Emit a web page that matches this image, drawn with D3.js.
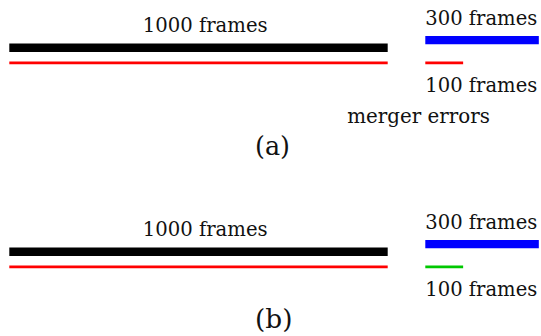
<!DOCTYPE html>
<html>
<head>
<meta charset="utf-8">
<script src="https://cdn.jsdelivr.net/npm/d3@7/dist/d3.min.js"></script>
<style>
  html, body { margin: 0; padding: 0; background: #fff; }
  svg { display: block; }
</style>
</head>
<body>
<script>
// Panels and the track lengths (in frames) drawn in each one
const panels = ["(a)", "(b)"];
const longTrack = [1000, 1000];     // thick black track
const longError = [1000, 1000];     // thin red line under the long track
const shortTrack = [300, 300];      // thick blue track
const shortPiece = [100, 100];      // thin piece under the short track
const pieceKind = ["error", "ok"];  // red (merger error) in (a), green in (b)
const longLabels = ["1000 frames", "1000 frames"];
const shortLabels = ["300 frames", "300 frames"];
const pieceLabels = ["100 frames", "100 frames"];
const notes = ["merger errors", ""];

const W = 541, H = 336;
const FONT = "DejaVu Serif";
const svg = d3.select("body").append("svg")
  .attr("width", W).attr("height", H)
  .attr("font-family", FONT);

// frames -> pixels (same scale for every track)
const x = d3.scaleLinear().domain([0, 1000]).range([0, 378.4]);
const longX0 = 9.3, shortX0 = 425.3;

// vertical offset of each panel
const panelY = d3.scalePoint().domain(panels).range([0, 204]);
const captionY = d3.scalePoint().domain(panels).range([155, 327.7]);

const colors = { long: "#000000", short: "#0000ff", error: "#ff0000", ok: "#00c800" };

// text whose font size is chosen so it spans the given width
function label(g, str, x0, y0, width) {
  const t = g.append("text")
    .attr("x", x0).attr("y", y0)
    .style("font-family", FONT)
    .attr("font-size", 20)
    .attr("fill", "#111")
    .text(str);
  const natural = t.node().getComputedTextLength();
  t.attr("font-size", (20 * width / natural).toFixed(2));
  return t;
}

panels.forEach((p, i) => {
  const g = svg.append("g").attr("transform", `translate(0,${panelY(p)})`);

  // long black track and the red line beneath it
  g.append("line")
    .attr("x1", longX0).attr("x2", longX0 + x(longTrack[i]))
    .attr("y1", 47.7).attr("y2", 47.7)
    .attr("stroke", colors.long).attr("stroke-width", 8.4);
  g.append("line")
    .attr("x1", longX0).attr("x2", longX0 + x(longError[i]))
    .attr("y1", 62.8).attr("y2", 62.8)
    .attr("stroke", colors.error).attr("stroke-width", 2.8);

  // short blue track and the short piece beneath it
  g.append("line")
    .attr("x1", shortX0).attr("x2", shortX0 + x(shortTrack[i]))
    .attr("y1", 40.1).attr("y2", 40.1)
    .attr("stroke", colors.short).attr("stroke-width", 8.2);
  g.append("line")
    .attr("x1", shortX0).attr("x2", shortX0 + x(shortPiece[i]))
    .attr("y1", 62.8).attr("y2", 62.8)
    .attr("stroke", colors[pieceKind[i]]).attr("stroke-width", 2.8);

  // labels
  label(g, longLabels[i], 142.7, 32.3, 125);
  label(g, shortLabels[i], shortX0, 25, 112);
  label(g, pieceLabels[i], shortX0, 92, 112);
  if (notes[i]) label(g, notes[i], 347.3, 123.3, 142.7);

  // panel caption
  label(svg, p, 255, captionY(p), p === "(a)" ? 35 : 37.5);
});
</script>
</body>
</html>
